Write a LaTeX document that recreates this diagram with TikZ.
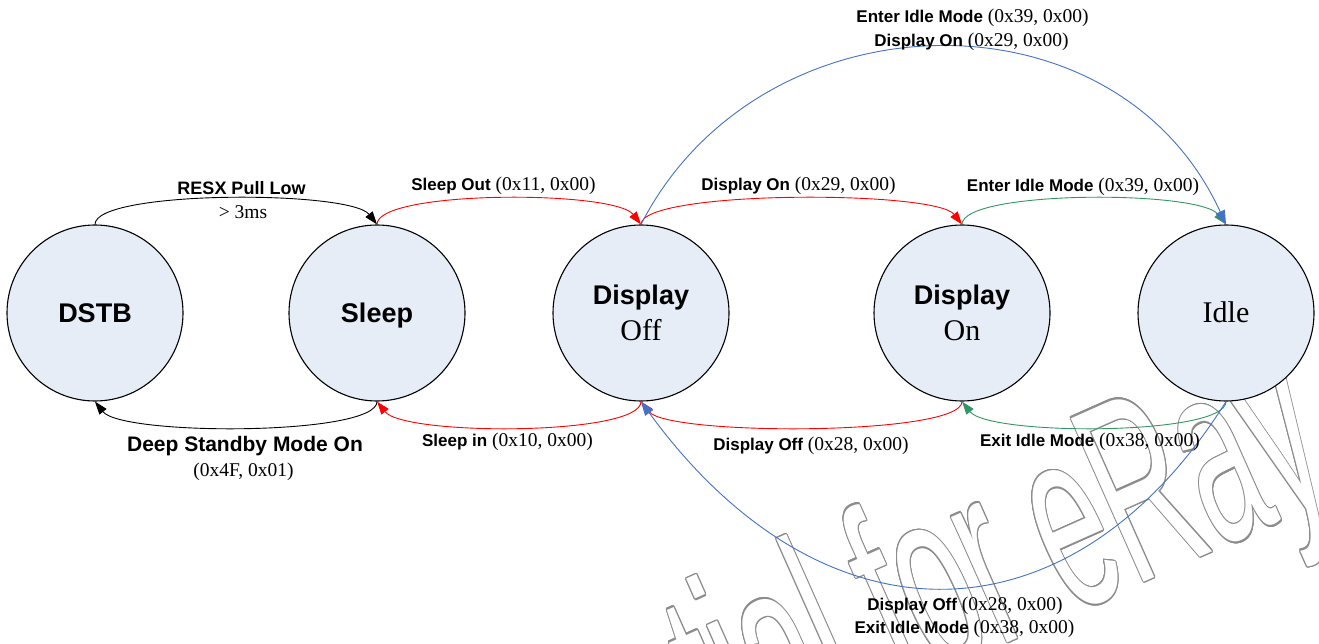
\documentclass[tikz,border=0pt]{standalone}
\usepackage{fontspec}
\setmainfont{Liberation Serif}
\newfontfamily\sansf{Liberation Sans}
\usetikzlibrary{arrows.meta}
\definecolor{statefill}{RGB}{231,237,247}
\definecolor{redc}{RGB}{255,0,0}
\definecolor{grnc}{RGB}{51,150,100}
\definecolor{bluc}{RGB}{68,114,196}
\definecolor{wmgray}{RGB}{140,140,140}
\newcommand\kw[1]{{\sansf\bfseries\fontsize{17}{20}\selectfont #1}}
\newcommand\wmtext{Confidential for eRay}
\tikzset{
  state/.style={circle, draw=black, line width=1.1pt, fill=statefill, minimum size=176pt, inner sep=0pt},
  nmsans/.style={font=\sansf\bfseries\fontsize{27}{30}\selectfont, inner sep=0pt, anchor=base},
  nmserif/.style={font=\fontsize{30}{34}\selectfont, inner sep=0pt, anchor=base},
  lbl/.style={font=\fontsize{19.5}{23}\selectfont, inner sep=0pt, anchor=base},
  conn/.style={line width=0.9pt},
  blk/.style={conn, draw=black, -{Triangle[length=13pt,width=9pt]}},
  redl/.style={conn, draw=redc, -{Triangle[length=13pt,width=9pt,fill=redc]}},
  grnl/.style={conn, draw=grnc, -{Triangle[length=13pt,width=9pt,fill=grnc]}},
  blul/.style={conn, draw=bluc, -{Triangle[length=14pt,width=10pt,fill=bluc]}},
  wmark/.style={transform shape, anchor=base west, inner sep=0pt,
      font=\sansf\fontsize{260}{260}\selectfont},
}
\begin{document}
\begin{tikzpicture}[x=1pt, y=-1pt]
\fill[white] (0,0) rectangle (1319,644);
\useasboundingbox (0,0) rectangle (1319,644);

% watermark (outlined text)
\begin{scope}[shift={(261,975)}, rotate=24, xscale=0.4865]
\foreach \a [count=\i] in {0,22.5,...,337.5}
  \node[wmark, text=wmgray] (wmc\i) at (\a:1.5) {\wmtext};
\node[wmark, text=white] (wm) at (0,0) {\wmtext};
\end{scope}

% states
\node[state] (dstb)  at (95,313)   {};
\node[state] (sleep) at (377,313)  {};
\node[state] (doff)  at (641,313)  {};
\node[state] (don)   at (962,313)  {};
\node[state] (idle)  at (1226,313) {};

\node[nmsans]  (dstbT)  at (95,322.7)  {DSTB};
\node[nmsans]  (sleepT) at (377,322.7) {Sleep};
\node[nmsans]  (doffT1) at (641,304)   {Display};
\node[nmserif] (doffT2) at (641,340)   {Off};
\node[nmsans]  (donT1)  at (962,304)   {Display};
\node[nmserif] (donT2)  at (962,340)   {On};
\node[nmserif] (idleT)  at (1226,322)  {Idle};

% connectors
\draw[blk]  (dstb.north) .. controls (95,190) and (350,190) .. (sleep.north);
\draw[blk]  (sleep.south) .. controls (377,436) and (122,436) .. (dstb.south);
\draw[redl] (sleep.north) .. controls (377,190) and (614,190) .. (doff.north);
\draw[redl] (doff.south) .. controls (641,436) and (404,436) .. (sleep.south);
\draw[redl] (doff.north) .. controls (641,190) and (935,190) .. (don.north);
\draw[redl] (don.south) .. controls (962,436) and (668,436) .. (doff.south);
\draw[grnl] (don.north) .. controls (962,190) and (1199,190) .. (idle.north);
\draw[grnl] (idle.south) .. controls (1226,436) and (989,436) .. (don.south);
\draw[blul] (doff.north) .. controls (760,-8) and (1116,-16) .. (idle.north);
\draw[blul] (idle.south) .. controls (1070,650) and (822,650) .. (doff.south);

% labels
\node[lbl] (lResx) at (241.5,195) {{\sansf\bfseries\fontsize{18}{20}\selectfont RESX Pull Low}};
\node[lbl] (lMs)   at (243,218.3) {> 3ms};
\node[lbl] (lDeep) at (245,451.7) {{\sansf\bfseries\fontsize{21}{24}\selectfont Deep Standby Mode On}};
\node[lbl] (lDeepC) at (243.5,476) {(0x4F, 0x01)};
\node[lbl] (lSOut) at (503.5,190.7) {\kw{Sleep Out} (0x11, 0x00)};
\node[lbl] (lSIn)  at (507.5,446)   {\kw{Sleep in} (0x10, 0x00)};
\node[lbl] (lDOn)  at (798.5,190.7) {\kw{Display On} (0x29, 0x00)};
\node[lbl] (lDOff) at (811,450.7)   {\kw{Display Off} (0x28, 0x00)};
\node[lbl] (lEIM)  at (1083,191.5)  {\kw{Enter Idle Mode} (0x39, 0x00)};
\node[lbl] (lXIM)  at (1090,446)    {\kw{Exit Idle Mode} (0x38, 0x00)};
\node[lbl] (lTop1) at (972.5,22.7)  {\kw{Enter Idle Mode} (0x39, 0x00)};
\node[lbl] (lTop2) at (971.5,46.7)  {\kw{Display On} (0x29, 0x00)};
\node[lbl] (lBot1) at (965,610)     {\kw{Display Off} (0x28, 0x00)};
\node[lbl] (lBot2) at (964.5,633.3) {\kw{Exit Idle Mode} (0x38, 0x00)};
\end{tikzpicture}
\end{document}
